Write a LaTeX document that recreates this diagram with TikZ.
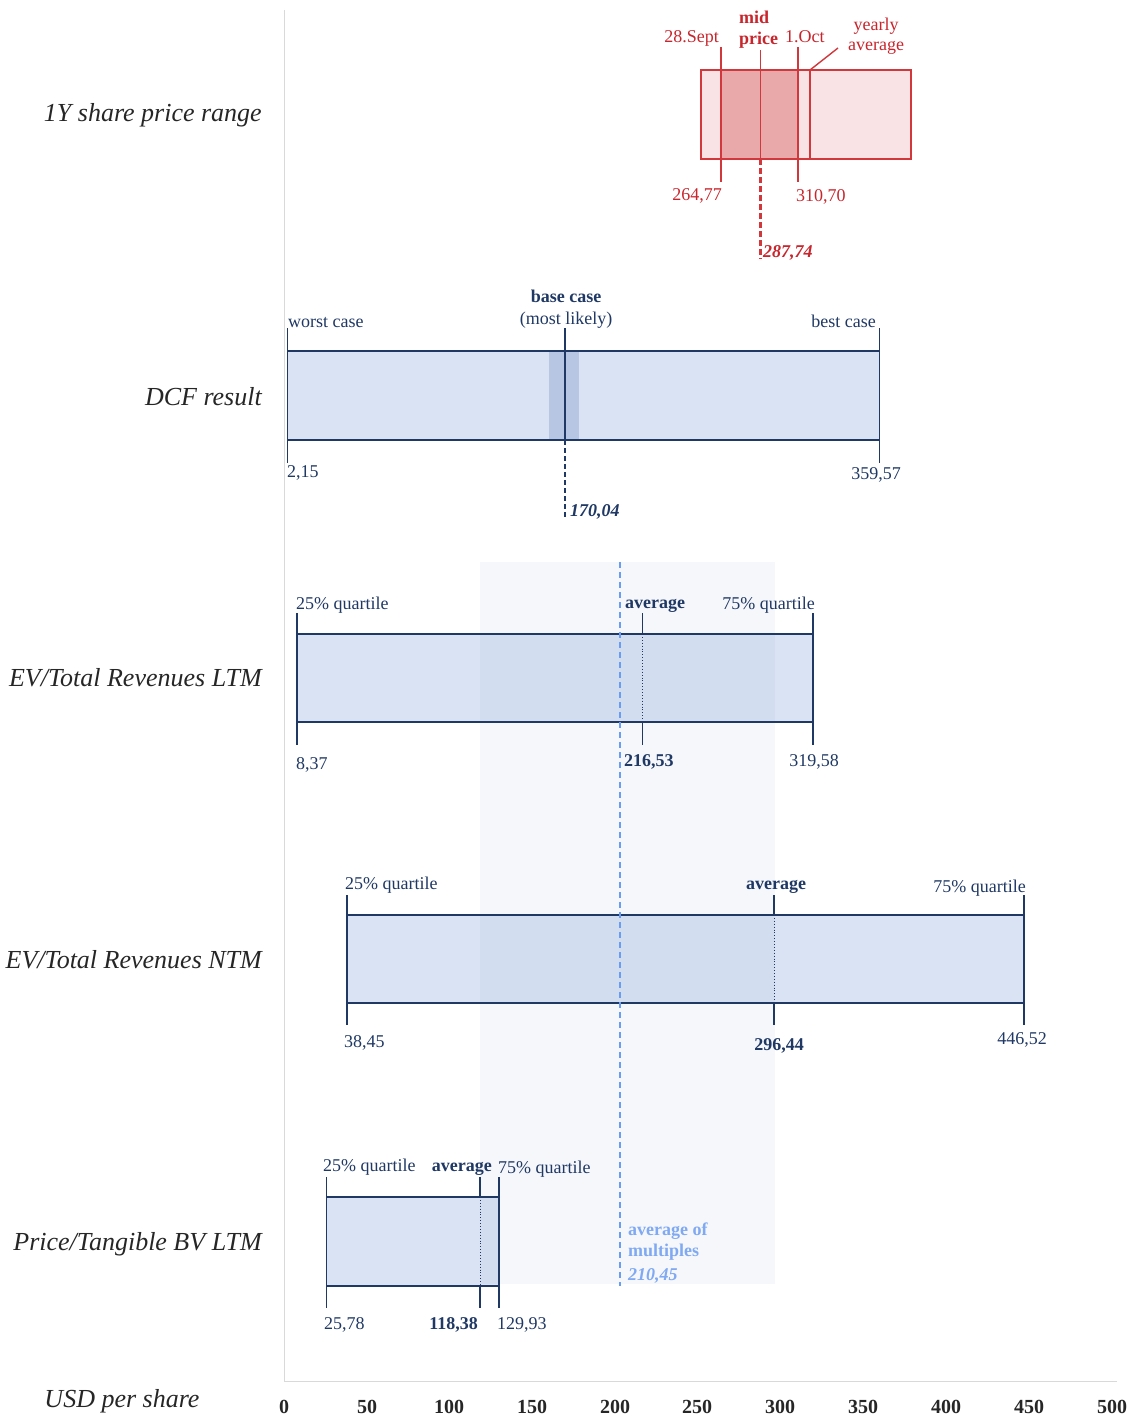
\documentclass[tikz,border=0pt]{standalone}
\usepackage{fontspec}
\setmainfont{Liberation Serif}
\definecolor{navy}{HTML}{1F3864}
\definecolor{barfill}{HTML}{DAE3F3}
\definecolor{basefill}{HTML}{B6C6E3}
\definecolor{bandc}{RGB}{130,155,205}
\definecolor{multblue}{HTML}{6B9CF4}
\definecolor{multtext}{HTML}{7FA9F2}
\definecolor{redline}{HTML}{D2373C}
\definecolor{redtext}{HTML}{C8252C}
\definecolor{redlight}{HTML}{F9E3E4}
\definecolor{reddark}{HTML}{E9A9AA}
\definecolor{axisgray}{HTML}{D9D9D9}
\begin{document}
\begin{tikzpicture}[x=1pt,y=-1pt,
  lbl/.style={font=\fontsize{18}{20}\selectfont, text=navy, inner sep=0pt},
  lblb/.style={font=\fontsize{18}{20}\selectfont\bfseries, text=navy, inner sep=0pt},
  lblbi/.style={font=\fontsize{18}{20}\selectfont\bfseries\itshape, text=navy, inner sep=0pt},
  rlbl/.style={font=\fontsize{18}{20}\selectfont, text=redtext, inner sep=0pt},
  rowlbl/.style={font=\fontsize{26}{28}\selectfont\itshape, text=black!85, inner sep=0pt, anchor=base east},
  axnum/.style={font=\fontsize{20}{22}\selectfont\bfseries, text=black!85, inner sep=0pt, anchor=base},
  barline/.style={draw=navy, line width=1.3pt},
  tk/.style={navy, line width=1.2pt},
  avgdot/.style={navy, line width=0.9pt, dotted},
  redln/.style={redline, line width=1.4pt},
  multtxt/.style={font=\fontsize{18}{20}\selectfont\bfseries, text=multtext, inner sep=0pt, anchor=base west}
]
\useasboundingbox (0,0) rectangle (1136,1418);

% axes
\draw[axisgray, line width=1pt] (284,10) -- (284,1381) -- (1117,1381);

% axis numbers
\foreach \v/\px in {0/284,50/367,100/449,150/532,200/615,250/697,300/780,350/863,400/946,450/1029,500/1112}
  \node[axnum] (ax\v) at (\px,1413) {\v};
\node[rowlbl, anchor=base] (usd) at (122,1407) {USD per share};

% row labels
\node[rowlbl] (r1) at (262,122) {1Y share price range};
\node[rowlbl] (r2) at (262,405) {DCF result};
\node[rowlbl] (r3) at (262,686) {EV/Total Revenues LTM};
\node[rowlbl] (r4) at (262,968) {EV/Total Revenues NTM};
\node[rowlbl] (r5) at (262,1250) {Price/Tangible BV LTM};

% ---------- bar fills ----------
\fill[barfill] (287.6,351) rectangle (879.8,440);
\fill[basefill] (549,351) rectangle (579,440);
\fill[barfill] (297,634) rectangle (813,722);
\fill[barfill] (347,915) rectangle (1024,1003);
\fill[barfill] (326.5,1197) rectangle (499,1286);

% multiples band (overlay)
\fill[bandc, fill opacity=0.08] (480,562) rectangle (775,1284);

% ---------- 1Y share price range ----------
\fill[redlight] (701,70) rectangle (911,159);
\fill[reddark] (721,70) rectangle (798,159);
\draw[redln] (701,70) rectangle (911,159);
\draw[redln] (810,70) -- (810,159);
\draw[redln] (810,70) -- (838,48);
\draw[redln] (721,47) -- (721,182);
\draw[redln] (798,47) -- (798,182);
\draw[redln] (760.5,50) -- (760.5,159);
\draw[redln, line width=2.4pt, dash pattern=on 6pt off 3pt] (760.5,159) -- (760.5,259);
\node[rlbl, anchor=base east] (sept) at (719,43) {28.Sept};
\node[rlbl, font=\fontsize{18}{20}\selectfont\bfseries, anchor=base west] (mid) at (739,24) {mid};
\node[rlbl, font=\fontsize{18}{20}\selectfont\bfseries, anchor=base west] (price) at (739,45) {price};
\node[rlbl, anchor=base west] (oct) at (785,43) {1.Oct};
\node[rlbl, anchor=base] (yearly) at (876,31) {yearly};
\node[rlbl, anchor=base] (yavg) at (876,51) {average};
\node[rlbl, anchor=base east] (p1) at (722,200) {264,77};
\node[rlbl, anchor=base west] (p2) at (796,201) {310,70};
\node[rlbl, font=\fontsize{18}{20}\selectfont\bfseries\itshape, anchor=base west] (p3) at (763,257) {287,74};

% ---------- DCF ----------
\draw[barline] (287.6,351) rectangle (879.8,440);
\draw[tk] (287.6,328) -- (287.6,463);
\draw[tk] (879.8,328) -- (879.8,463);
\draw[tk] (565,328) -- (565,440);
\draw[navy, line width=2pt, dash pattern=on 5pt off 3pt] (565,440) -- (565,517);
\node[lbl, anchor=base west] (worst) at (288,327) {worst case};
\node[lblb, anchor=base] (base) at (566,302) {base case};
\node[lbl, anchor=base] (likely) at (566,324) {(most likely)};
\node[lbl, anchor=base east] (best) at (876,327) {best case};
\node[lbl, anchor=base west] (d1) at (287,477) {2,15};
\node[lbl, anchor=base] (d2) at (876,479) {359,57};
\node[lblbi, anchor=base west] (d3) at (570,516) {170,04};

% ---------- EV/Total Revenues LTM ----------
\draw[barline] (297,634) rectangle (813,722);
\draw[tk] (297,613) -- (297,745);
\draw[tk] (813,613) -- (813,745);
\draw[tk] (642.5,613) -- (642.5,634);
\draw[avgdot] (642.5,634) -- (642.5,722);
\draw[tk] (642.5,722) -- (642.5,745);
\node[lbl, anchor=base west] (l1) at (296,609) {25\% quartile};
\node[lblb, anchor=base west] (l2) at (625,608) {average};
\node[lbl, anchor=base east] (l3) at (815,609) {75\% quartile};
\node[lbl, anchor=base west] (l4) at (296,769) {8,37};
\node[lblb, anchor=base west] (l5) at (624,766) {216,53};
\node[lbl, anchor=base] (l6) at (814,766) {319,58};

% ---------- EV/Total Revenues NTM ----------
\draw[barline] (347,915) rectangle (1024,1003);
\draw[tk] (347,895) -- (347,1025);
\draw[tk] (1024,895) -- (1024,1025);
\draw[tk] (774,895) -- (774,915);
\draw[avgdot] (774,915) -- (774,1003);
\draw[tk] (774,1003) -- (774,1025);
\node[lbl, anchor=base west] (n1) at (345,889) {25\% quartile};
\node[lblb, anchor=base] (n2) at (776,889) {average};
\node[lbl, anchor=base east] (n3) at (1026,892) {75\% quartile};
\node[lbl, anchor=base west] (n4) at (344,1047) {38,45};
\node[lblb, anchor=base] (n5) at (779,1050) {296,44};
\node[lbl, anchor=base] (n6) at (1022,1044) {446,52};

% ---------- Price/Tangible BV LTM ----------
\draw[barline] (326.5,1197) rectangle (499,1286);
\draw[tk] (326.5,1177) -- (326.5,1308);
\draw[tk] (499,1177) -- (499,1308);
\draw[tk] (480,1177) -- (480,1197);
\draw[avgdot] (480,1197) -- (480,1286);
\draw[tk] (480,1286) -- (480,1308);
\node[lbl, anchor=base west] (t1) at (323,1171) {25\% quartile};
\node[lblb, anchor=base east] (t2) at (492,1171) {average};
\node[lbl, anchor=base west] (t3) at (498,1173) {75\% quartile};
\node[lbl, anchor=base west] (t4) at (324,1329) {25,78};
\node[lblb, anchor=base east] (t5) at (478,1329) {118,38};
\node[lbl, anchor=base west] (t6) at (497,1329) {129,93};

% ---------- average of multiples ----------
\draw[multblue, line width=2pt, dash pattern=on 6pt off 4pt] (620,562) -- (620,1286);
\node[multtxt] (m1) at (628,1235) {average of};
\node[multtxt] (m2) at (628,1256) {multiples};
\node[multtxt, font=\fontsize{18}{20}\selectfont\bfseries\itshape] (m3) at (628,1280) {210,45};

\end{tikzpicture}
\end{document}
